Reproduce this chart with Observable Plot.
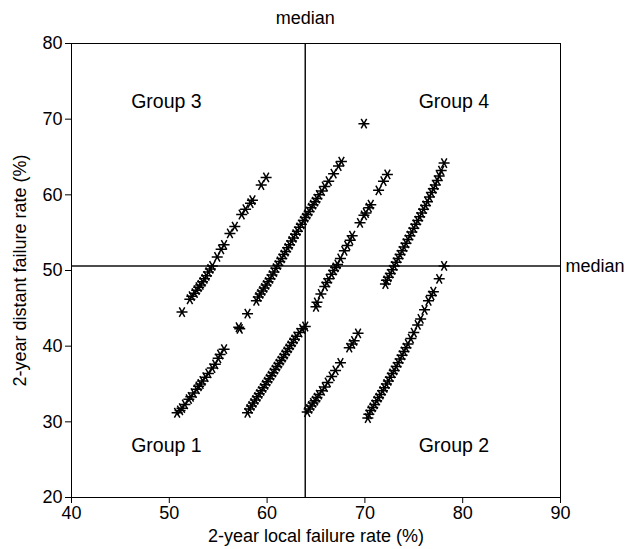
<!DOCTYPE html>
<html>
<head>
<meta charset="utf-8">
<script src="https://cdn.jsdelivr.net/npm/d3@7"></script>
<script src="https://cdn.jsdelivr.net/npm/@observablehq/plot@0.6"></script>
<style>
  html, body { margin: 0; padding: 0; background: #fff; }
  #chart { width: 625px; height: 549px; }
</style>
</head>
<body>
<div id="chart"></div>
<script>
// Strands of points (2-year local failure rate %, 2-year distant failure rate %)
const strandA = [[51.3,44.5],[52.1,46.2],[52.3,46.6],[52.6,47.0],[52.8,47.4],[53.0,47.8],[53.2,48.1],[53.4,48.5],[53.6,48.9],[53.8,49.3],[54.0,49.8],[54.2,50.2],[54.4,50.6],[54.9,51.8],[55.3,52.8],[55.6,53.4],[56.2,54.9],[56.7,55.8],[57.4,57.4],[57.8,58.1],[58.3,58.9],[58.5,59.3],[59.4,61.3],[59.9,62.3]];
const strandB = [[57.1,42.5],[57.2,42.3],[58.0,44.3],[58.9,46.0],[59.1,46.5],[59.3,46.9],[59.5,47.3],[59.7,47.7],[59.9,48.1],[60.1,48.5],[60.3,48.9],[60.5,49.4],[60.7,49.8],[60.9,50.3],[61.1,50.7],[61.3,51.2],[61.5,51.6],[61.7,52.1],[61.9,52.5],[62.1,53.0],[62.3,53.4],[62.5,53.9],[62.7,54.3],[62.9,54.8],[63.1,55.2],[63.3,55.7],[63.5,56.1],[63.7,56.6],[63.9,57.0],[64.1,57.4],[64.3,57.8],[64.5,58.3],[64.7,58.7],[64.9,59.1],[65.1,59.5],[65.3,60.0],[65.6,60.5],[65.9,61.1],[66.3,61.8],[66.8,62.8],[67.3,63.8],[67.6,64.4]];
const strandC = [[50.8,31.2],[51.1,31.5],[51.3,31.8],[51.6,32.3],[52.0,33.0],[52.2,33.3],[52.5,33.8],[52.8,34.3],[53.0,34.7],[53.2,35.0],[53.4,35.4],[53.7,35.9],[54.0,36.4],[54.4,37.1],[54.7,37.6],[55.0,38.4],[55.2,38.9],[55.6,39.6]];
const strandD = [[58.0,31.2],[58.2,31.7],[58.4,32.1],[58.6,32.5],[58.8,32.9],[59.0,33.3],[59.2,33.7],[59.4,34.1],[59.6,34.5],[59.8,34.9],[60.0,35.3],[60.2,35.7],[60.4,36.1],[60.6,36.5],[60.8,36.9],[61.0,37.3],[61.2,37.7],[61.4,38.1],[61.6,38.5],[61.8,38.9],[62.0,39.3],[62.2,39.7],[62.4,40.1],[62.6,40.5],[62.8,40.9],[63.0,41.3],[63.3,41.8],[63.6,42.3],[63.9,42.6]];
const strandE = [[65.0,45.2],[65.1,45.8],[65.5,46.9],[65.9,47.9],[66.1,48.4],[66.3,48.9],[66.6,49.5],[66.8,50.0],[67.0,50.4],[67.2,50.8],[67.5,51.6],[67.9,52.6],[68.2,53.3],[68.5,54.0],[68.7,54.6],[69.5,56.3],[69.9,57.3],[70.1,57.6],[70.4,58.3],[70.6,58.7],[71.4,60.6],[71.9,61.8],[72.3,62.7]];
const strandF = [[64.1,31.3],[64.3,31.7],[64.5,32.1],[64.7,32.5],[64.9,32.8],[65.1,33.2],[65.3,33.6],[65.6,34.1],[65.9,34.6],[66.2,35.2],[66.6,36.0],[67.0,36.8],[67.5,37.8],[68.4,39.8],[68.7,40.3],[68.9,40.7],[69.3,41.7]];
const strandG = [[72.1,48.2],[72.2,48.7],[72.4,49.1],[72.6,49.6],[72.8,50.1],[73.0,50.6],[73.2,51.1],[73.4,51.6],[73.6,52.1],[73.8,52.6],[74.0,53.1],[74.2,53.6],[74.4,54.1],[74.6,54.6],[74.8,55.1],[75.0,55.6],[75.2,56.1],[75.4,56.6],[75.6,57.1],[75.8,57.6],[76.0,58.1],[76.2,58.6],[76.4,59.1],[76.6,59.7],[76.8,60.3],[77.0,60.8],[77.2,61.3],[77.4,61.9],[77.6,62.5],[77.8,63.2],[78.1,64.2]];
const strandH = [[70.3,30.5],[70.4,31.0],[70.6,31.5],[70.8,31.9],[71.0,32.3],[71.2,32.8],[71.4,33.2],[71.6,33.6],[71.8,34.1],[72.0,34.5],[72.2,35.0],[72.4,35.4],[72.6,35.9],[72.8,36.4],[73.0,36.8],[73.2,37.3],[73.4,37.8],[73.6,38.3],[73.8,38.8],[74.0,39.3],[74.2,39.8],[74.4,40.3],[74.7,41.0],[75.0,41.8],[75.4,42.8],[75.7,43.6],[76.1,44.8],[76.5,46.0],[76.8,46.7],[77.0,47.2],[77.6,48.9],[78.1,50.6]];
const outlier = [[69.9,69.4]];

const medianX = 63.9;
const medianY = 50.6;

const xTicks = [40, 50, 60, 70, 80, 90];
const yTicks = [20, 30, 40, 50, 60, 70, 80];

const groupLabels = [
  {label: "Group 3", x: 49.7, y: 72.3},
  {label: "Group 4", x: 79.1, y: 72.3},
  {label: "Group 1", x: 49.7, y: 26.9},
  {label: "Group 2", x: 79.1, y: 26.9}
];

const points = [strandA, strandB, strandC, strandD, strandE, strandF, strandG, strandH, outlier]
  .flat().map(([x, y]) => ({x, y}));

// asterisk-like marker: horizontal bar plus an X
const star = {
  draw(context, size) {
    const r = Math.sqrt(size / Math.PI);
    context.moveTo(-r, 0); context.lineTo(r, 0);
    const a = Math.PI / 3;
    const cx = r * Math.cos(a), cy = r * Math.sin(a);
    context.moveTo(-cx, -cy); context.lineTo(cx, cy);
    context.moveTo(-cx, cy); context.lineTo(cx, -cy);
  }
};

const chart = Plot.plot({
  width: 625,
  height: 549,
  marginLeft: 71,
  marginRight: 65,
  marginTop: 43,
  marginBottom: 52,
  style: {fontFamily: "'Liberation Sans', Arial, sans-serif", fontSize: "18px", background: "#fff", color: "#000"},
  x: {domain: [40, 90]},
  y: {domain: [20, 80]},
  marks: [
    Plot.ruleX([medianX], {stroke: "#111", strokeWidth: 1.5}),
    Plot.ruleY([medianY], {stroke: "#111", strokeWidth: 1.5}),
    Plot.frame({stroke: "#000", strokeWidth: 1}),
    Plot.axisX({ticks: xTicks, tickSize: 6, tickPadding: 3, fontSize: 18,
      label: "2-year local failure rate (%)", labelAnchor: "center", labelArrow: "none", labelOffset: 44}),
    Plot.axisY({ticks: yTicks, tickSize: 6, tickPadding: 3, fontSize: 18,
      label: "2-year distant failure rate (%)", labelAnchor: "center", labelArrow: "none", labelOffset: 58}),
    Plot.dot(points, {x: "x", y: "y", symbol: star, r: 5.5, stroke: "#000", strokeWidth: 1.5, fill: "none"}),
    Plot.text(groupLabels, {x: "x", y: "y", text: "label", fontSize: 19.5, fill: "#000"}),
    Plot.text(["median"], {x: medianX, y: 80, dy: -25, fontSize: 18, fill: "#000"}),
    Plot.text(["median"], {x: 90, y: medianY, dx: 5, textAnchor: "start", fontSize: 18, fill: "#000"})
  ]
});
document.getElementById("chart").appendChild(chart);
</script>
</body>
</html>
